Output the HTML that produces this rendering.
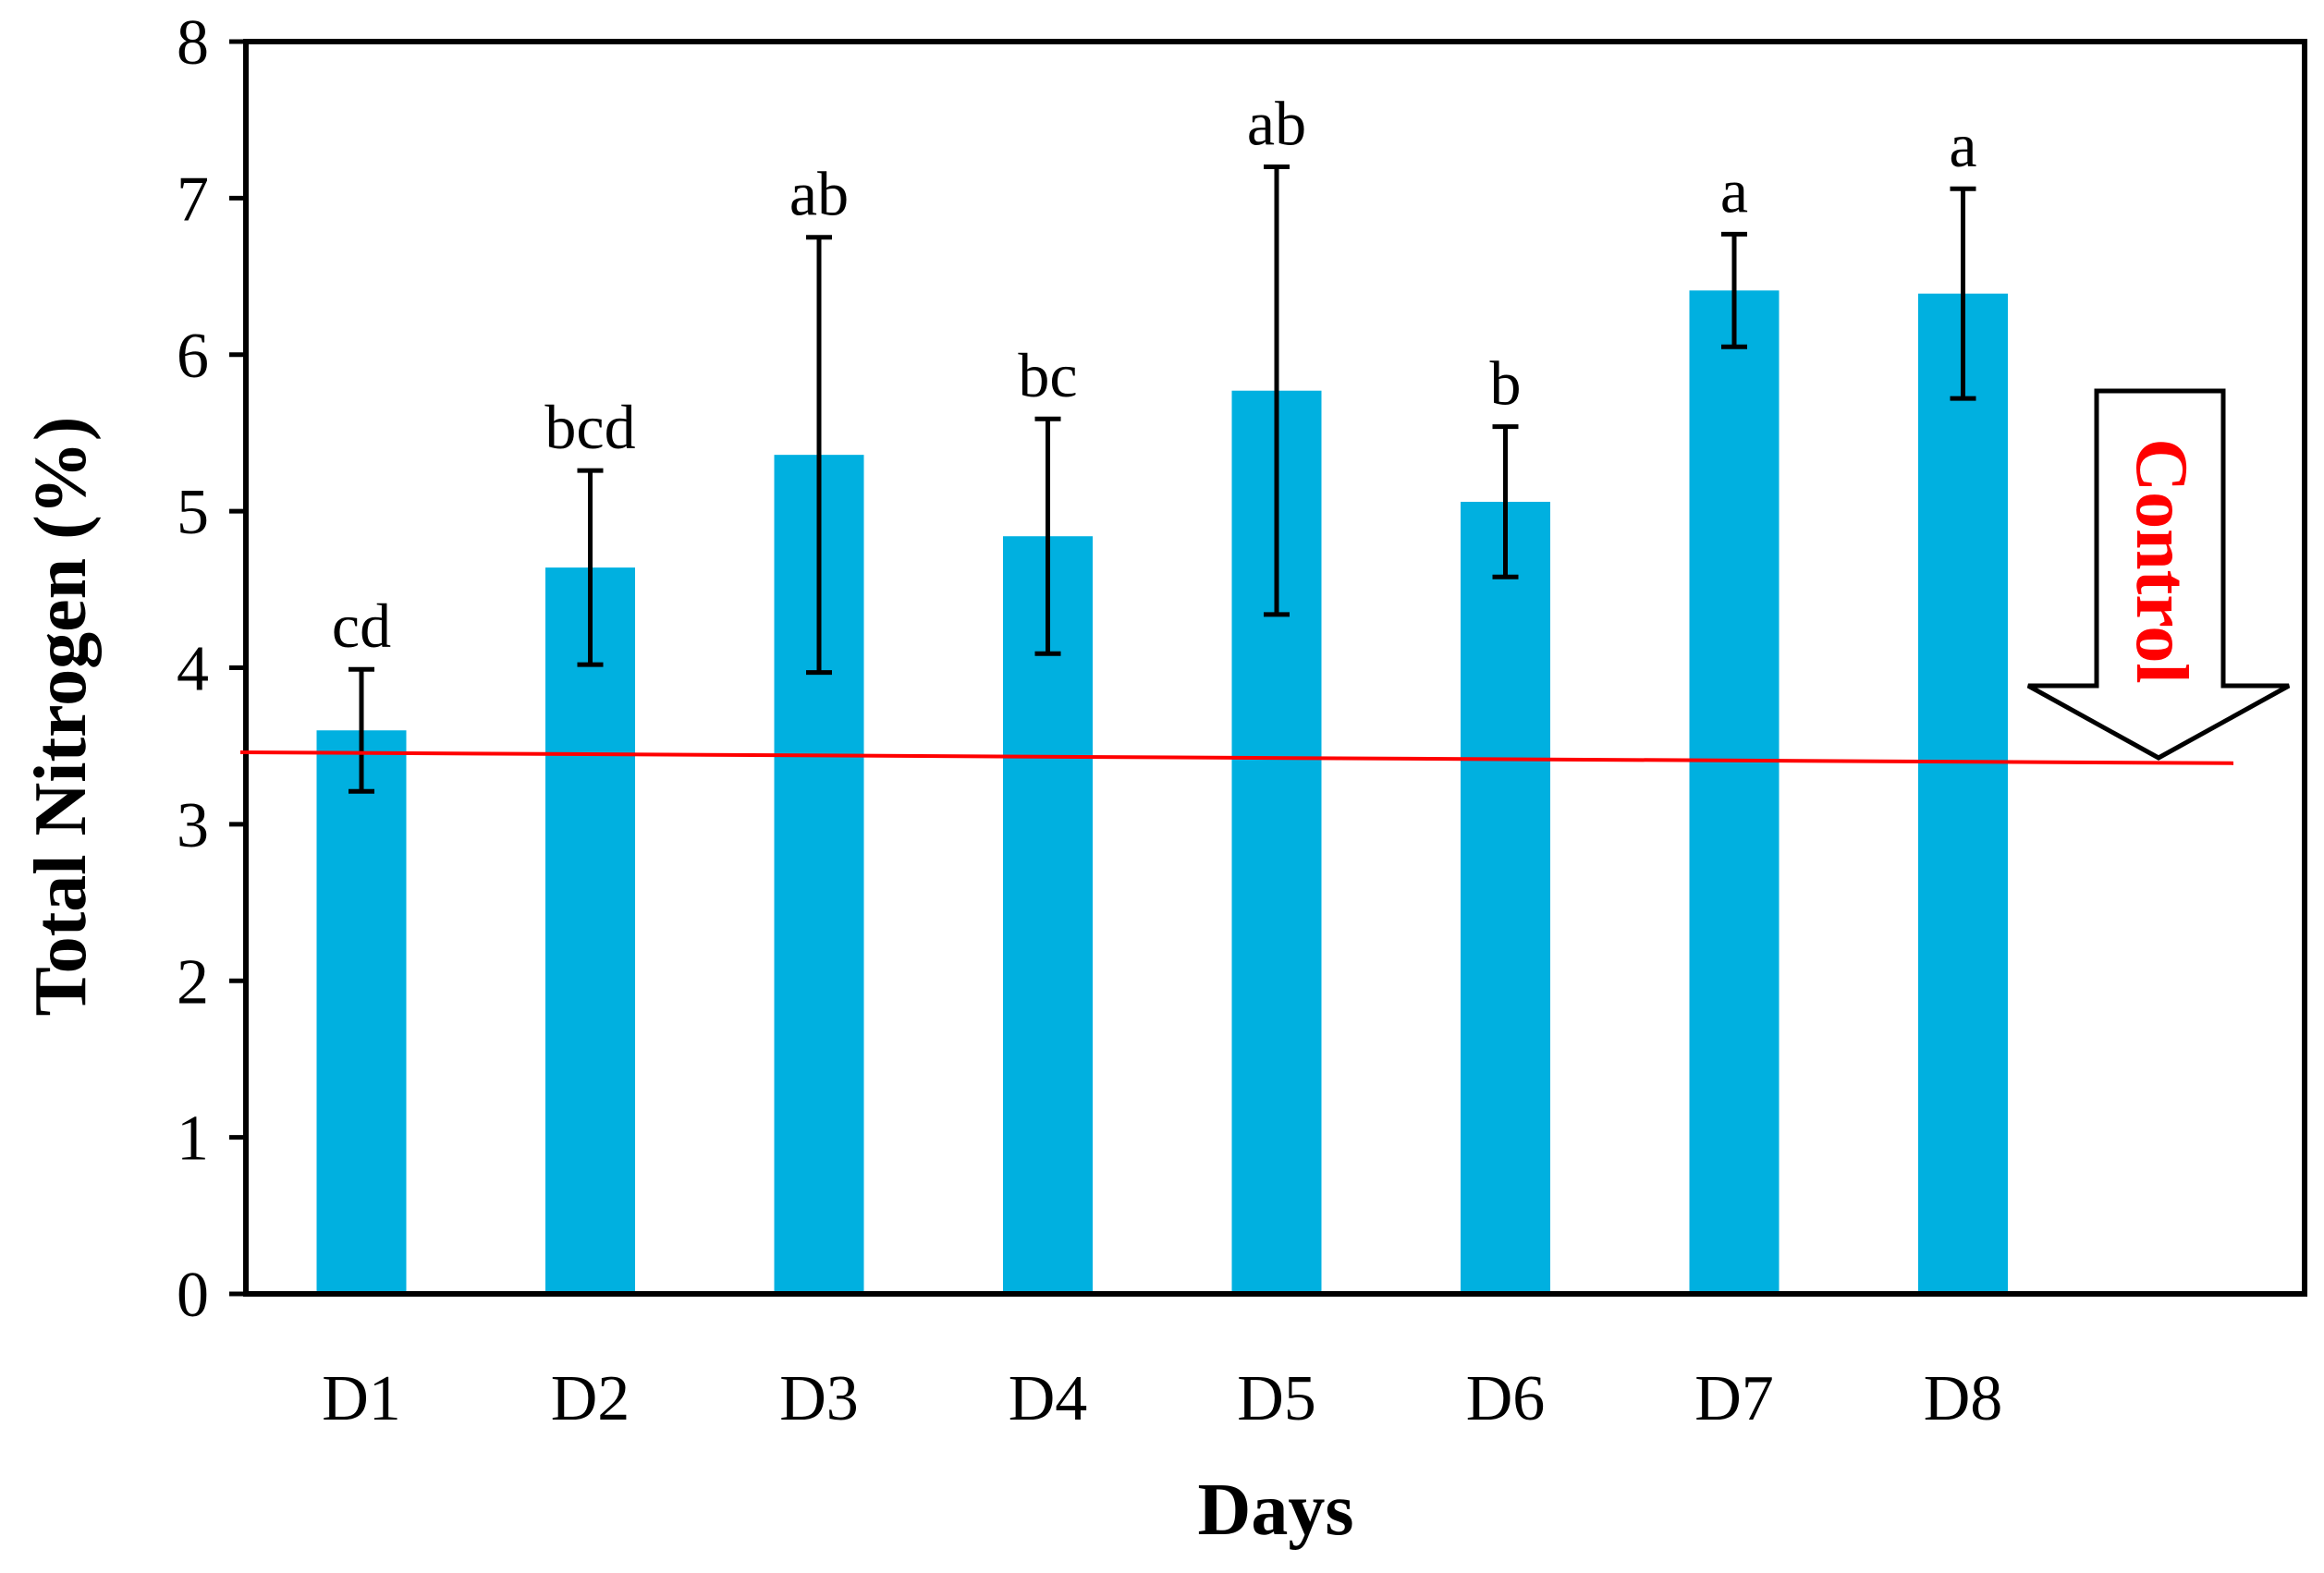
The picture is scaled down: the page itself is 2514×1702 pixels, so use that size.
<!DOCTYPE html>
<html><head><meta charset="utf-8"><style>
html,body{margin:0;padding:0;background:#fff;}
svg{display:block;font-family:"Liberation Serif",serif;}
</style></head><body>
<svg id="chart" width="2514" height="1702" viewBox="0 0 2514 1702">
<g id="bars"></g>
<g id="errs"></g>
<g id="letters"></g>
<g id="axes"></g>
</svg>
<script>
const categories = ["D1","D2","D3","D4","D5","D6","D7","D8"];
const values = [3.60, 4.64, 5.36, 4.84, 5.77, 5.06, 6.41, 6.39];
const errors = [0.39, 0.62, 1.39, 0.75, 1.43, 0.48, 0.36, 0.67];
const sigLetters = ["cd","bcd","ab","bc","ab","b","a","a"];
const yTicks = [0,1,2,3,4,5,6,7,8];
const controlLine = [3.46, 3.39];

const NS = "http://www.w3.org/2000/svg";
const X0 = 266, X1 = 2493, Y0 = 1400, YT = 45;
const y = v => Y0 - (v / 8) * (Y0 - YT);
const xc = i => 391 + i * 247.5;
const BW = 97;
function mk(tag, attrs, parent){const e=document.createElementNS(NS,tag);for(const k in attrs)e.setAttribute(k,attrs[k]);parent.appendChild(e);return e;}
const gb=document.getElementById('bars'), ge=document.getElementById('errs'), gl=document.getElementById('letters'), ga=document.getElementById('axes');
const svg=document.getElementById('chart');

categories.forEach((c,i)=>{
  const r=mk('rect',{x:xc(i)-BW/2,y:y(values[i]),width:BW,height:Y0-y(values[i]),fill:'#00B0E0'},gb);
  
  
  const hi=y(values[i]+errors[i]), lo=y(values[i]-errors[i]);
  const eg=mk('g',{stroke:'#000','stroke-width':5},ge);
  
  
  mk('line',{x1:xc(i),x2:xc(i),y1:hi,y2:lo},eg);
  mk('line',{x1:xc(i)-14,x2:xc(i)+14,y1:hi,y2:hi},eg);
  mk('line',{x1:xc(i)-14,x2:xc(i)+14,y1:lo,y2:lo},eg);
  const t=mk('text',{x:xc(i),y:hi-24,'text-anchor':'middle','font-size':68,fill:'#000'},gl);
  t.textContent=sigLetters[i];
  
  
  const xl=mk('text',{x:xc(i),y:1536,'text-anchor':'middle','font-size':70,fill:'#000'},ga);
  xl.textContent=c;
  
  
});

const cl=mk('line',{x1:260,y1:y(controlLine[0]),x2:2416,y2:y(controlLine[1]),stroke:'#FF0000','stroke-width':4},svg);



const fr=mk('rect',{x:X0,y:YT,width:X1-X0,height:Y0-YT,fill:'none',stroke:'#000','stroke-width':6},ga);


yTicks.forEach(v=>{
  const tk=mk('line',{x1:248,x2:X0,y1:y(v),y2:y(v),stroke:'#000','stroke-width':5},ga);
  
  
  const tl=mk('text',{x:226,y:y(v)+24,'text-anchor':'end','font-size':70,fill:'#000'},ga);
  tl.textContent=v;
  
  
});

const ar=mk('polygon',{points:'2268,423 2405,423 2405,742 2476,742 2335,820 2194,742 2268,742',fill:'#fff',stroke:'#000','stroke-width':5},svg);


const ct=mk('text',{x:0,y:0,transform:'translate(2312,607) rotate(90)','text-anchor':'middle','font-size':80,'font-weight':'bold',fill:'#FF0000'},svg);
ct.textContent='Control';



const xt=mk('text',{x:1380,y:1660,'text-anchor':'middle','font-size':80,'font-weight':'bold',fill:'#000'},svg);
xt.textContent='Days';


const yt=mk('text',{x:0,y:0,transform:'translate(92,775) rotate(-90)','text-anchor':'middle','font-size':80,'font-weight':'bold',fill:'#000'},svg);
yt.textContent='Total Nitrogen (%)';


</script>
</body></html>
